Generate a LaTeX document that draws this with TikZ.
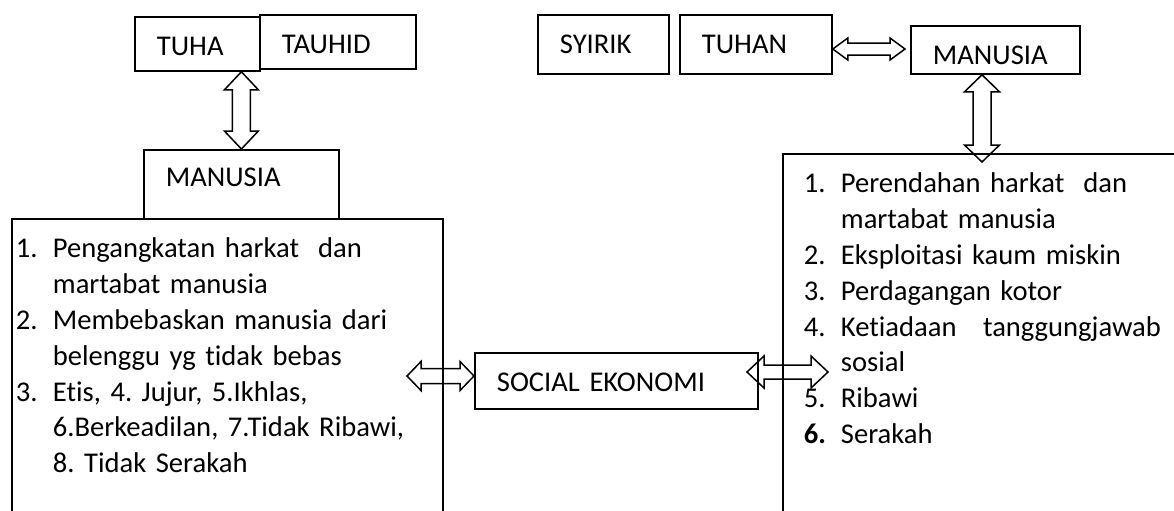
\documentclass[tikz,border=0pt]{standalone}
\usepackage{fontspec}
\setmainfont{Carlito}[Ligatures={NoCommon}]
\usetikzlibrary{calc}
\frenchspacing

\newcommand{\fatv}[5]{%
	\draw[fat] let \p1=(#1), \p2=(#2) in
		(\x1,\y1) -- (\x1+#4,\y1-#5) -- (\x1+#3,\y1-#5) -- (\x1+#3,\y2+#5)
		-- (\x1+#4,\y2+#5) -- (\x1,\y2) -- (\x1-#4,\y2+#5) -- (\x1-#3,\y2+#5)
		-- (\x1-#3,\y1-#5) -- (\x1-#4,\y1-#5) -- cycle;}
\newcommand{\fath}[5]{%
	\draw[fat] let \p1=(#1), \p2=(#2) in
		(\x1,\y1) -- (\x1+#5,\y1+#4) -- (\x1+#5,\y1+#3) -- (\x2-#5,\y1+#3)
		-- (\x2-#5,\y1+#4) -- (\x2,\y1) -- (\x2-#5,\y1-#4) -- (\x2-#5,\y1-#3)
		-- (\x1+#5,\y1-#3) -- (\x1+#5,\y1-#4) -- cycle;}

\begin{document}
\begin{tikzpicture}[x=0.5pt, y=-0.5pt, line width=0.9pt,
	font=\fontsize{14.3pt}{17.9pt}\selectfont,
	box/.style n args={3}{draw, anchor=north west, align=left, inner xsep=11pt, inner ysep=0pt,
		text width=#1, text height=#2, text depth=#3},
	fat/.style={line width=0.75pt, line join=miter}]
			\fill[white] (0,0) rectangle (1174,510);
			\useasboundingbox (0,0) rectangle (1174,510);

			\node[box={40.5pt}{19.5pt}{7.5pt}] (tuha) at (134,16) {TUHA};
			\node[box={56pt}{19.5pt}{7.5pt}] (tauhid) at (259,14) {TAUHID};
			\node[box={43.5pt}{19.5pt}{10pt}] (syirik) at (537,14) {SYIRIK};
			\node[box={54pt}{19.5pt}{10pt}] (tuhan) at (679,14) {TUHAN};
			\node[box={62.5pt}{19.5pt}{4.5pt}] (manr) at (910,25) {MANUSIA};
			\node[box={75.5pt}{18.5pt}{16pt}] (manl) at (143,149) {MANUSIA};
			\node[box={119.5pt}{19.5pt}{8.5pt}] (soc) at (474,352) {SOCIAL EKONOMI};

			\node[box={211.5pt}{19.5pt}{136.5pt}, inner xsep=2pt] (lbig) at (11,218) {%
				\begin{tabular}[t]{@{}p{18.5pt}@{}l@{}}
					1. & Pengangkatan harkat\ \ dan\\
					   & martabat manusia\\
					2. & Membebaskan manusia dari\\
					   & belenggu yg tidak bebas\\
					3. & Etis, 4. Jujur, 5.Ikhlas,\\
					   & 6.Berkeadilan, 7.Tidak Ribawi,\\
					   & 8. Tidak Serakah
				\end{tabular}};
			\node[box={181pt}{19.5pt}{169pt}, inner xsep=10.5pt] (rbig) at (782,153) {%
				\begin{tabular}[t]{@{}p{18.5pt}@{}l@{}}
					1. & Perendahan harkat\ \ dan\\
					   & martabat manusia\\
					2. & Eksploitasi kaum miskin\\
					3. & Perdagangan kotor\\
					4. & \makebox[160pt][l]{Ketiadaan\hfill tanggungjawab}\\
					   & sosial\\
					5. & Ribawi\\
					\textbf{6.} & Serakah
				\end{tabular}};

			\coordinate (rtip) at (982,162);
			\coordinate (mtip) at (905,49);
			\coordinate (lsoc) at (407,376);
			\coordinate (rsa) at (747,372);
			\coordinate (rsb) at (828,372);

			\fatv{manl.north |- tuha.south}{manl.north}{4.5pt}{8.5pt}{9pt}
			\fatv{manr.south -| rtip}{rtip}{4.5pt}{8.75pt}{8.5pt}
			\fath{tuhan.east |- mtip}{mtip}{3pt}{5.5pt}{7.5pt}
			\fath{lsoc}{soc.west |- lsoc}{3.75pt}{7.25pt}{7pt}
			\fath{rsa}{rsb}{3.5pt}{8pt}{8.5pt}
		\end{tikzpicture}
\end{document}
